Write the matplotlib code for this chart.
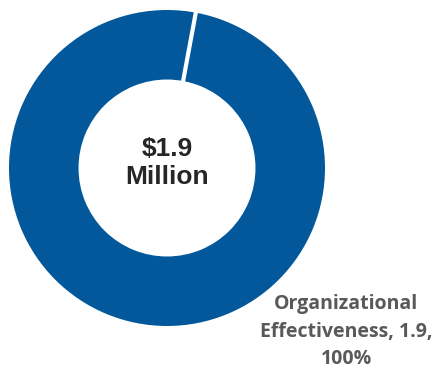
import matplotlib
matplotlib.use('Agg')
import numpy as np
import matplotlib.pyplot as plt

# budget breakdown (in $ millions)
categories = ['Organizational Effectiveness']
values = [1.9]
total_label = r'\$1.9' + '\nMillion'

total = sum(values)
shares = [v / total * 100 for v in values]

start = 79.5
inner = 0.56

fig = plt.figure(figsize=(4.38, 3.72), dpi=100)
# ring centred at (167, 168) px, outer radius 158 px
ax = fig.add_axes([(167 - 158) / 438, (372 - 168 - 158) / 372, 316 / 438, 316 / 372])

ax.pie(values, colors=['#02589A'], startangle=start, counterclock=False,
       radius=1.0, wedgeprops=dict(width=1 - inner, linewidth=0))
# white seam where the slice starts
a = np.deg2rad(start)
ax.plot([inner * np.cos(a) * 0.98, np.cos(a) * 1.02],
        [inner * np.sin(a) * 0.98, np.sin(a) * 1.02],
        color='white', linewidth=3, solid_capstyle='butt')
ax.set_xlim(-1.0, 1.0)
ax.set_ylim(-1.0, 1.0)
ax.set_aspect('equal')
ax.axis('off')

ax.text(0, 0.03, total_label, ha='center', va='center', fontsize=19,
        fontweight='bold', color='#262626', family='Liberation Sans',
        linespacing=1.2)

label = '{}\n{}, {},\n{:.0f}%'.format('Organizational', 'Effectiveness',
                                      values[0], shares[0])
fig.text(346 / 438, 1 - 332 / 372, label, ha='center', va='center',
         multialignment='center', fontsize=14, fontweight='bold',
         color='#595959', family='Open Sans', linespacing=1.5)

fig.savefig('out.png', dpi=100)
